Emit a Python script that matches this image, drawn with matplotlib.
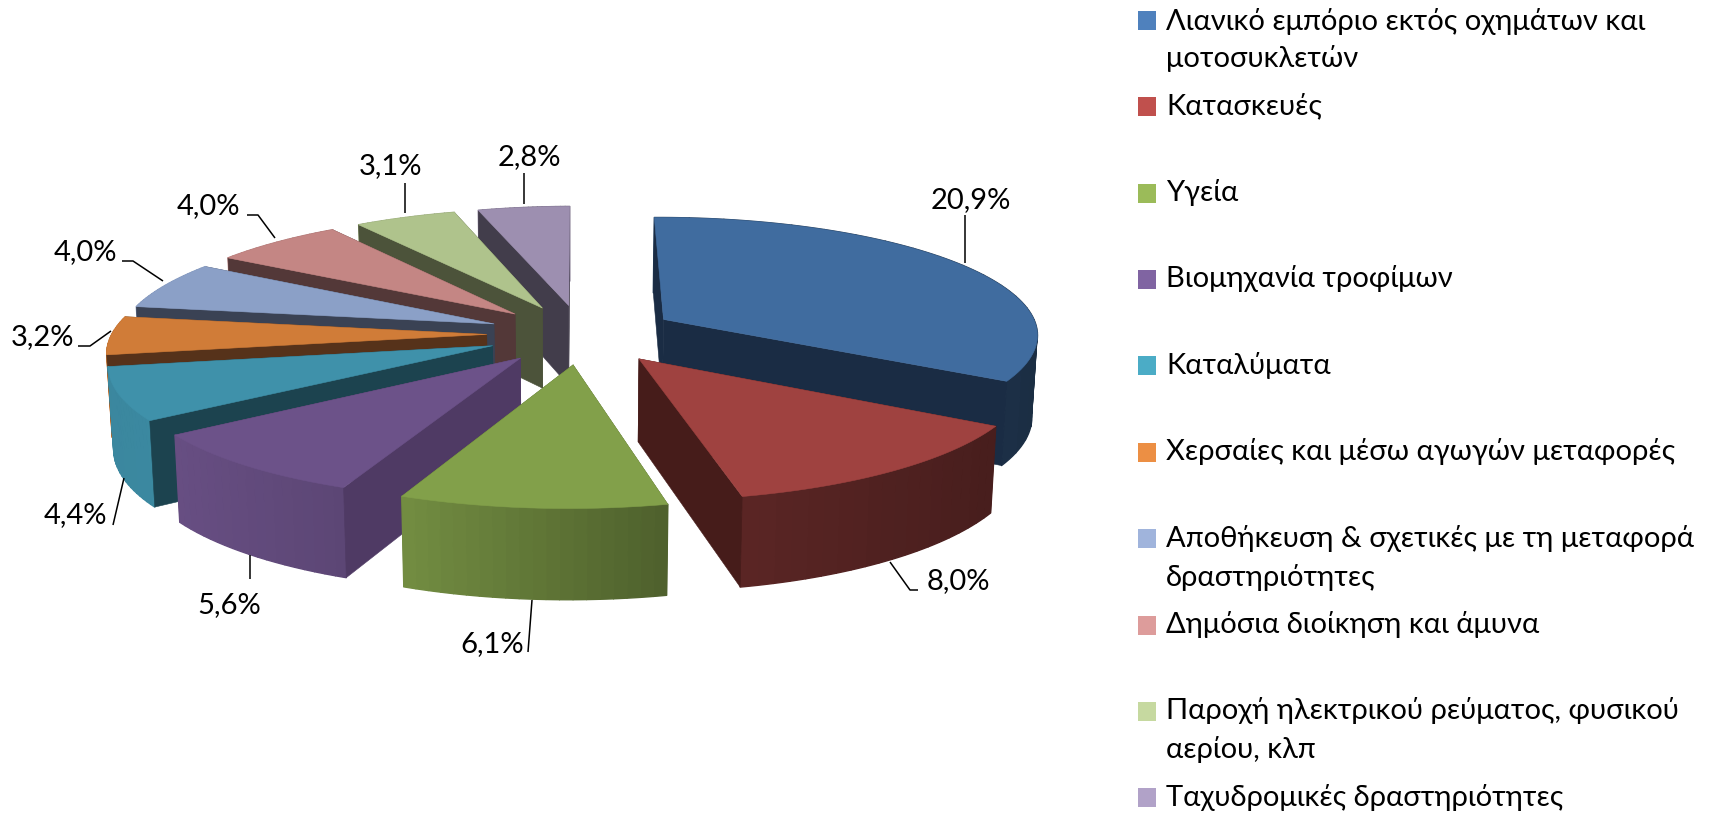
import numpy as np
import matplotlib
matplotlib.use("Agg")
import matplotlib.pyplot as plt

values = [20.9, 8.0, 6.1, 5.6, 4.4, 3.2, 4.0, 4.0, 3.1, 2.8]
labels = ["20,9%", "8,0%", "6,1%", "5,6%", "4,4%", "3,2%", "4,0%", "4,0%", "3,1%", "2,8%"]
legend_lines = [["Λιανικό εμπόριο εκτός οχημάτων και", "μοτοσυκλετών"],
                ["Κατασκευές"],
                ["Υγεία"],
                ["Βιομηχανία τροφίμων"],
                ["Καταλύματα"],
                ["Χερσαίες και μέσω αγωγών μεταφορές"],
                ["Αποθήκευση & σχετικές με τη μεταφορά", "δραστηριότητες"],
                ["Δημόσια διοίκηση και άμυνα"],
                ["Παροχή ηλεκτρικού ρεύματος, φυσικού", "αερίου, κλπ"],
                ["Ταχυδρομικές δραστηριότητες"]]
top_colors = ["#406C9F", "#9F4240", "#82A04A", "#6C5289", "#3F91AA",
              "#D07C38", "#8BA0C7", "#C48684", "#AFC38C", "#9D8FB0"]
cut_colors = ["#1A2C44", "#461C1A", "#4E5F2A", "#4F3A64", "#1C434F",
              "#56321A", "#3A4254", "#533838", "#4C533A", "#423D4B"]
legend_colors = ["#4F81BD", "#C0504D", "#9BBB59", "#8064A2", "#4BACC6",
                 "#EC8F44", "#A0B4DC", "#DD9C9B", "#C6D9A0", "#B1A2C8"]

# pie plane -> picture pixels (homography)
H = [379.35, 47.01, 581.91, -6.10, -76.60, 334.16, 0.00787, 0.12233]
explode = 0.2535
start = 90 - 3.617

# layout in pixels
label_pos = [(931, 208), (927, 589), (460, 652), (197, 613), (44, 523),
             (11, 345), (54, 260), (177, 214), (359, 174), (498, 165)]
leaders = [[(965, 215), (965, 263)],
           [(890, 562), (910, 590), (918, 590)],
           [(532, 600), (528, 652)],
           [(250, 555), (250, 579)],
           [(124, 478), (113, 525)],
           [(111, 331), (90, 346), (78, 346)],
           [(163, 281), (133, 261), (122, 261)],
           [(275, 238), (258, 215), (247, 215)],
           [(405, 183), (405, 213)],
           [(524, 173), (524, 204)]]
swatch_top = [11, 97, 184, 270, 356, 443, 529, 616, 702, 788]
text_base = [[30, 67], [114], [201], [287], [374], [460], [547, 586], [633], [719, 758], [806]]

plt.rcParams['font.family'] = ['Lato', 'Noto Sans', 'DejaVu Sans']


def project(u, v):
    a, b, c, d, e, f, g, h = H
    w = g * u + h * v + 1
    return (a * u + b * v + c) / w, (d * u + e * v + f) / w


def lower(x, y):
    # the underside: depth grows towards the viewer, verticals converge a little
    return x + 0.012 * (570 - x), y + 80 + 0.055 * (y - 304)


def shade(x):
    return np.interp(x, [100, 180, 345, 402, 667, 740, 995, 1040],
                     [0.93, 0.95, 0.85, 0.88, 0.60, 0.57, 0.45, 0.42])


def poly(ax, xs, ys, color, lw=0.4):
    ax.fill(xs, ys, color=color, lw=lw, ec=color, joinstyle='round')


fig = plt.figure(figsize=(17.13, 8.14), dpi=100)
ax = fig.add_axes([0, 0, 1, 1])
ax.set_xlim(0, 1713)
ax.set_ylim(814, 0)
ax.axis('off')

vals = np.array(values)
edges = start - np.cumsum(np.r_[0, vals]) / vals.sum() * 360
mids = (edges[:-1] + edges[1:]) / 2
order = np.argsort(-np.sin(np.radians(mids)))

for i in order:
    m = np.radians(mids[i])
    cu, cv = explode * np.cos(m), explode * np.sin(m)
    t = np.radians(np.linspace(edges[i], edges[i + 1], 81))
    rx, ry = project(cu + np.cos(t), cv + np.sin(t))
    ax_, ay_ = project(cu, cv)
    bx, by = lower(rx, ry)
    bax, bay = lower(ax_, ay_)
    rim_mid = (rx[40], ry[40])

    # which cut faces look at the viewer
    faces = []
    for k in (0, -1):
        dx = rx[k] - ax_
        slope = (ry[k] - ay_) / dx if abs(dx) > 1e-6 else 1e9 * np.sign(rim_mid[0] - ax_)
        visible = rim_mid[1] < ay_ + slope * (rim_mid[0] - ax_)
        faces.append((visible, [ax_, rx[k], bx[k], bax], [ay_, ry[k], by[k], bay]))

    for visible, xs, ys in faces:
        if not visible:
            poly(ax, xs, ys, cut_colors[i])

    # outer wall, shaded along x, in bands wide enough not to show seams
    base = np.array(matplotlib.colors.to_rgb(top_colors[i]))
    for s in range(0, len(t) - 1, 4):
        j = np.arange(s, min(s + 5, len(t)))
        col = base * shade(rx[j].mean())
        poly(ax, np.r_[rx[j], bx[j][::-1]], np.r_[ry[j], by[j][::-1]], col, lw=1.0)

    for visible, xs, ys in faces:
        if visible:
            poly(ax, xs, ys, cut_colors[i])

    poly(ax, np.r_[ax_, rx], np.r_[ay_, ry], top_colors[i])

for pts in leaders:
    ax.plot([p[0] for p in pts], [p[1] for p in pts], color='black', lw=1.1, solid_capstyle='butt')

for lab, (x, y) in zip(labels, label_pos):
    ax.text(x, y, lab, fontsize=21, ha='left', va='baseline', color='black')

for lines, col, top, bases in zip(legend_lines, legend_colors, swatch_top, text_base):
    ax.add_patch(plt.Rectangle((1138, top), 18, 19, color=col, lw=0))
    for line, y in zip(lines, bases):
        ax.text(1166, y, line, fontsize=21, ha='left', va='baseline', color='black')

fig.savefig("out.png", dpi=100)
